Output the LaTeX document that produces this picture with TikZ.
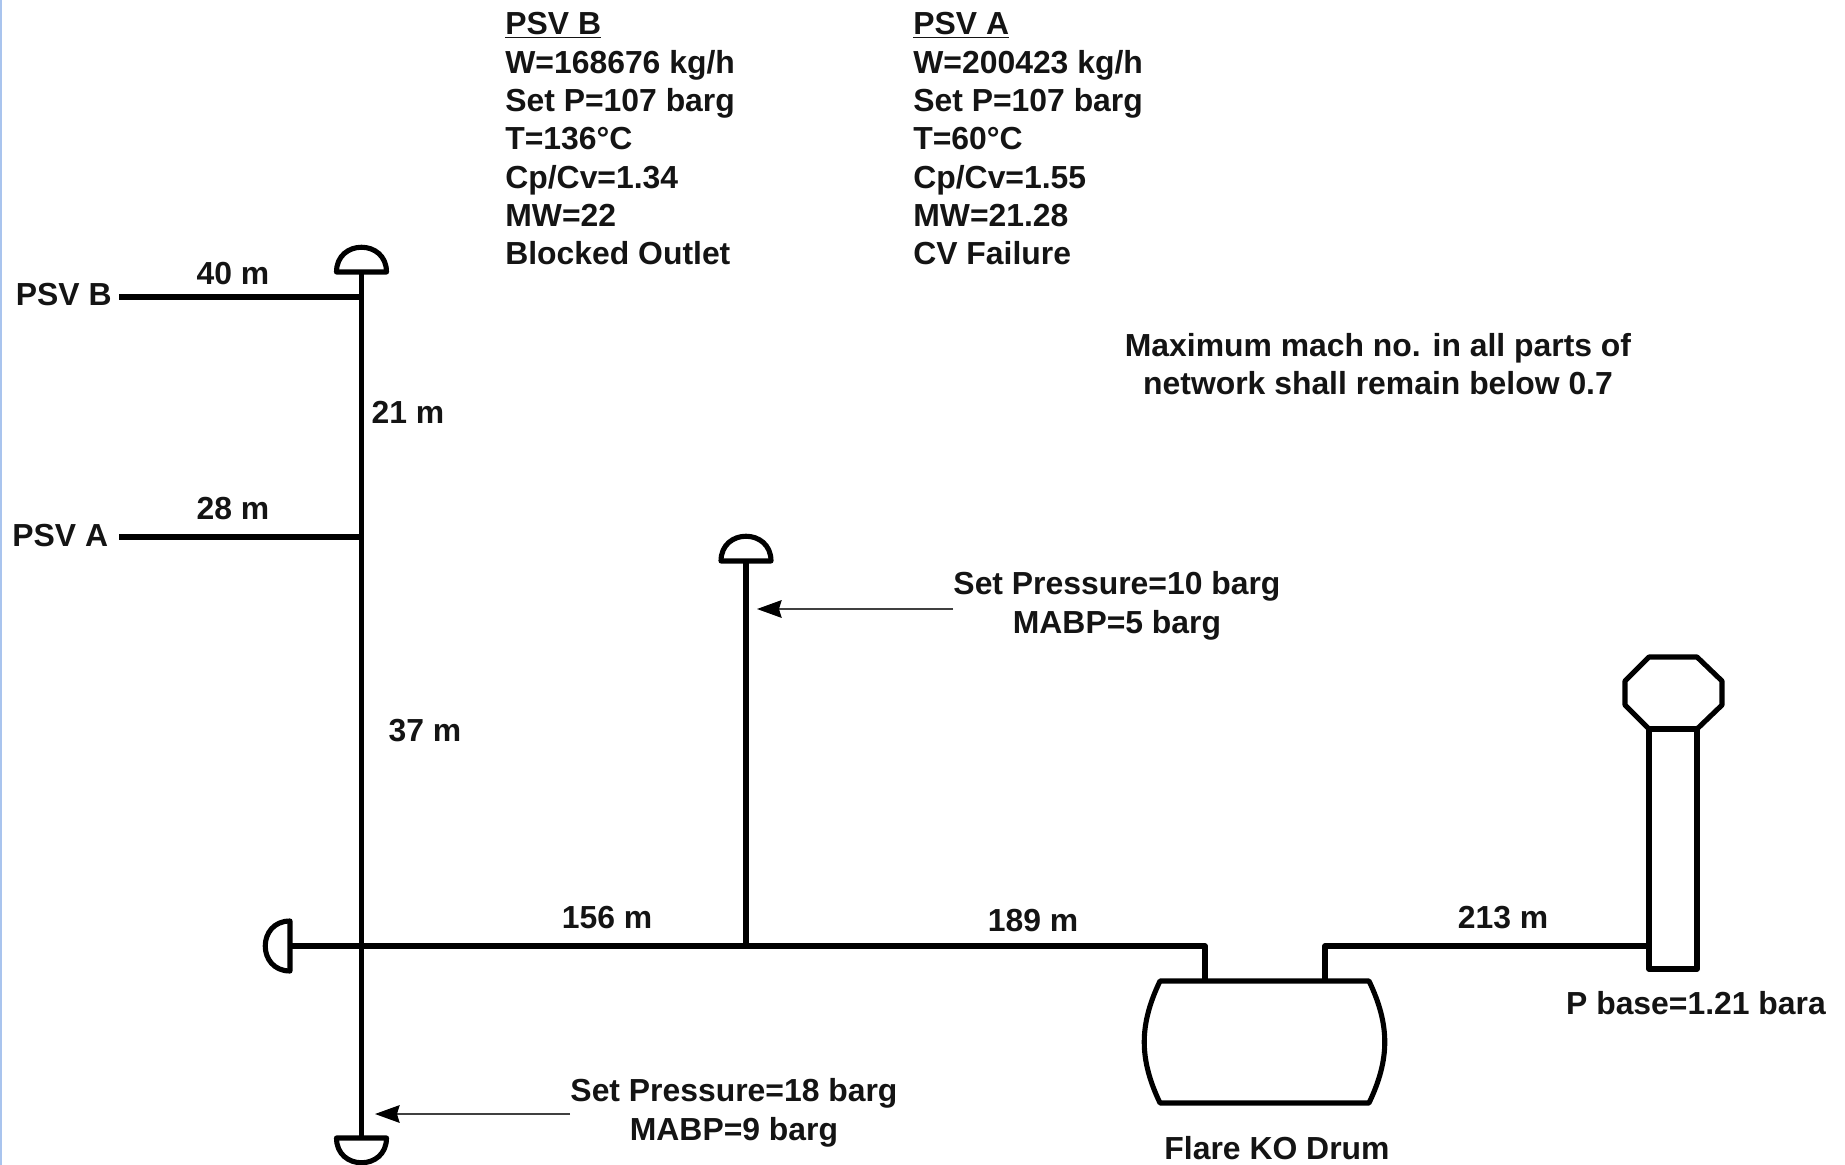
\documentclass[tikz,border=0pt]{standalone}
\usepackage{fontspec}
\setmainfont{Liberation Sans}
\usetikzlibrary{arrows.meta, positioning}

\definecolor{inkdark}{HTML}{141414}
\definecolor{edgeblue}{HTML}{A9C4EE}

\tikzset{
    pipe/.style={draw=black, line width=2.9pt, line join=round},
    note/.style={draw=black!75, line width=1.1pt},
    lbl/.style={inner sep=0pt, text=inkdark, align=center,
        font=\fontsize{18.15pt}{21.85pt}\selectfont\bfseries},
    data/.style={lbl, align=left, anchor=north west},
    dome/.pic={\draw[pipe] (-25,0) -- (25,0) .. controls (25,-33) and (-25,-33) .. cycle;}
}

\begin{document}
\begin{tikzpicture}[>={Stealth[length=14pt,width=10pt,inset=1.5pt,color=black]}, x=0.02cm, y=-0.02cm]
    \useasboundingbox (0,0) rectangle (1845,1165);
    \fill[edgeblue] (0,0) rectangle (2.5,1165);

    % header data
    \node[data] (psvbdata) at (505,12) {\underline{PSV B}\\W=168676 kg/h\\Set P=107 barg\\T=136°C\\Cp/Cv=1.34\\MW=22\\Blocked Outlet};
    \node[data] (psvadata) at (913,12) {\underline{PSV A}\\W=200423 kg/h\\Set P=107 barg\\T=60°C\\Cp/Cv=1.55\\MW=21.28\\CV Failure};
    \node[lbl] (machnote) at (1378,364) {Maximum mach no. in all parts of\\network shall remain below 0.7};

    % pipe points
    \coordinate (topcap) at (361.5,272);
    \coordinate (botcap) at (361.5,1138);
    \coordinate (teeb) at (361.5,297);
    \coordinate (teea) at (361.5,537);
    \coordinate (leftcap) at (290,946);
    \coordinate (midcap) at (746,561);
    \coordinate (teemid) at (746,946);
    \coordinate (drumin) at (1205,981);
    \coordinate (drumout) at (1325,981);
    \coordinate (stackin) at (1649,946);
    \coordinate (tipten) at (757,609);
    \coordinate (tipeight) at (375,1114);

    % labels
    \node[lbl, anchor=east, inner xsep=4pt] (psvb) at (119,295) {PSV B};
    \node[lbl, anchor=east, inner xsep=6pt] (psva) at (119,536) {PSV A};
    \node[lbl] (lenb) at (233,274) {40 m};
    \node[lbl] (lena) at (233,509) {28 m};
    \node[lbl] (lenab) at (408,412) {21 m};
    \node[lbl] (lendown) at (425,731) {37 m};
    \node[lbl] (lenhead) at (607,918) {156 m};
    \node[lbl] (lendrum) at (1033,921) {189 m};
    \node[lbl] (lenstack) at (1503,918) {213 m};
    \node[lbl] (setten) at (1117,606) {Set Pressure=10 barg\\MABP=5 barg};
    \node[lbl] (seteight) at (734,1113) {Set Pressure=18 barg\\MABP=9 barg};
    \node[lbl] (pbase) at (1696,1003) {P base=1.21 bara};
    \node[lbl] (drumname) at (1277,1148) {Flare KO Drum};

    % pipes
    \draw[pipe] (topcap) -- (botcap);
    \draw[pipe] (psvb.east |- teeb) -- (teeb);
    \draw[pipe] (psva.east |- teea) -- (teea);
    \draw[pipe] (midcap) -- (teemid);
    \draw[pipe] (leftcap) -- (teemid) -| (drumin);
    \draw[pipe] (drumout) |- (stackin);

    % caps
    \pic at (topcap) {dome};
    \pic at (midcap) {dome};
    \pic[rotate=180] at (botcap) {dome};
    \pic[rotate=90] at (leftcap) {dome};

    % drum and stack
    \draw[pipe] (1160,981) -- (1369,981) .. controls (1390,1025) and (1390,1059) .. (1369,1103)
        -- (1160,1103) .. controls (1139,1059) and (1139,1025) .. cycle;
    \draw[pipe] (1649,729) rectangle (1697,969);
    \draw[pipe] (1649,657) -- (1697,657) -- (1722,681) -- (1722,705) -- (1697,729) -- (1649,729) -- (1625,705) -- (1625,681) -- cycle;

    % notes
    \draw[note,->] (setten.west |- tipten) -- (tipten);
    \draw[note,->] (seteight.west |- tipeight) -- (tipeight);
\end{tikzpicture}
\end{document}
